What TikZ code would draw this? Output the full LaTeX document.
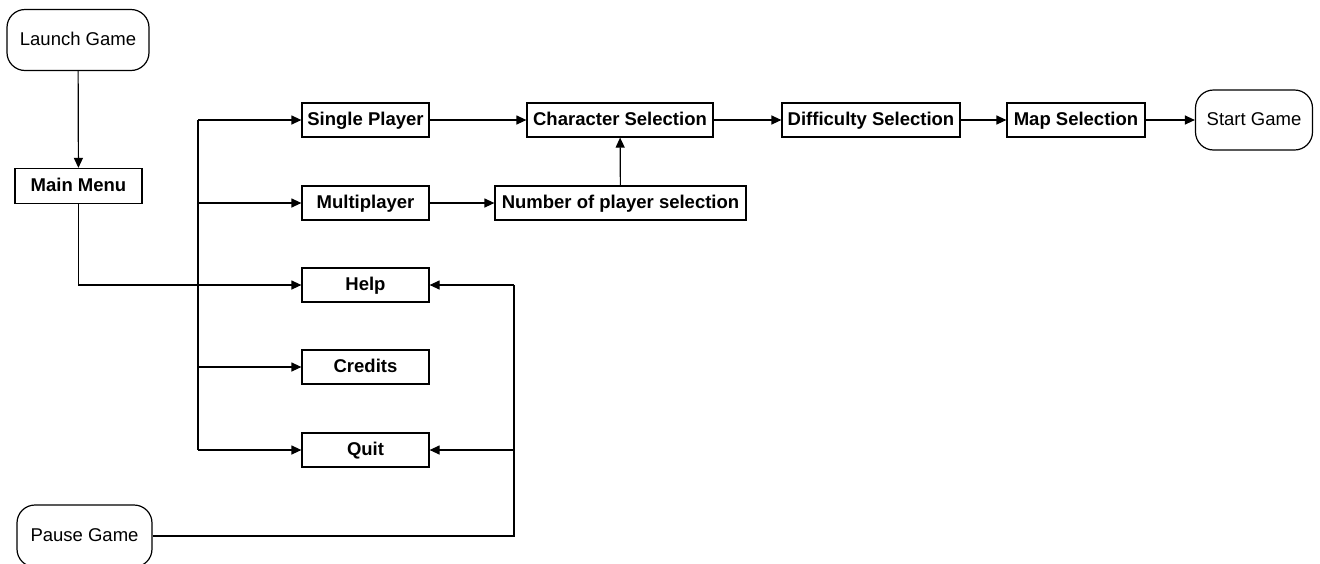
\documentclass[tikz,border=0pt]{standalone}
\usepackage{fontspec}
\setmainfont{Liberation Sans}
\usetikzlibrary{arrows.meta}
\begin{document}
\begin{tikzpicture}[x=1pt,y=-1pt,
  base/.style={draw=black,line width=1.2pt,inner sep=0pt,text height=13.5pt,text depth=3.5pt,font=\fontsize{18.5}{20}\selectfont},
  stepbox/.style={base,font=\fontsize{18.5}{20}\selectfont\bfseries,minimum height=34pt},
  term/.style={base,rounded corners=18pt},
  conn/.style={line width=1.2pt,-{Triangle[length=10pt,width=9pt]}},
  plain/.style={line width=1.2pt}]
\useasboundingbox (0,0) rectangle (1320,563);
\node[term,minimum width=142pt,minimum height=61pt] (launch) at (78,40) {Launch Game};
\node[stepbox,minimum width=127pt,minimum height=35pt] (menu) at (78.5,186) {Main Menu};
\node[stepbox,minimum width=127pt] (single) at (365.5,120) {Single Player};
\node[stepbox,minimum width=127pt] (multi) at (365.5,203) {Multiplayer};
\node[stepbox,minimum width=127pt] (help) at (365.5,285) {Help};
\node[stepbox,minimum width=127pt] (credits) at (365.5,367) {Credits};
\node[stepbox,minimum width=127pt] (quit) at (365.5,450) {Quit};
\node[stepbox,minimum width=186pt] (char) at (620,120) {Character Selection};
\node[stepbox,minimum width=251pt] (nop) at (620.5,203) {Number of player selection};
\node[stepbox,minimum width=178pt] (diff) at (871,120) {Difficulty Selection};
\node[stepbox,minimum width=138pt] (map) at (1076,120) {Map Selection};
\node[term,minimum width=117pt,minimum height=60pt] (start) at (1254,120) {Start Game};
\node[term,minimum width=135pt,minimum height=62pt] (pause) at (84.5,536) {Pause Game};
\coordinate (b1) at (198,120);
\coordinate (b2) at (198,203);
\coordinate (b3) at (198,367);
\coordinate (b4) at (198,450);
\coordinate (r1) at (514,285);
\coordinate (r2) at (514,450);
\coordinate (r3) at (514,536);
\draw[conn] (launch) -- (menu);
\draw[conn] (menu.south) |- (help.west);
\draw[plain] (b1) -- (b4);
\draw[conn] (b1) -- (single);
\draw[conn] (b2) -- (multi);
\draw[conn] (b3) -- (credits);
\draw[conn] (b4) -- (quit);
\draw[conn] (single) -- (char);
\draw[conn] (multi) -- (nop);
\draw[conn] (nop) -- (char);
\draw[conn] (char) -- (diff);
\draw[conn] (diff) -- (map);
\draw[conn] (map) -- (start);
\draw[plain] (pause.east) -- (r3) -- (r1);
\draw[conn] (r1) -- (help);
\draw[conn] (r2) -- (quit);
\end{tikzpicture}
\end{document}
